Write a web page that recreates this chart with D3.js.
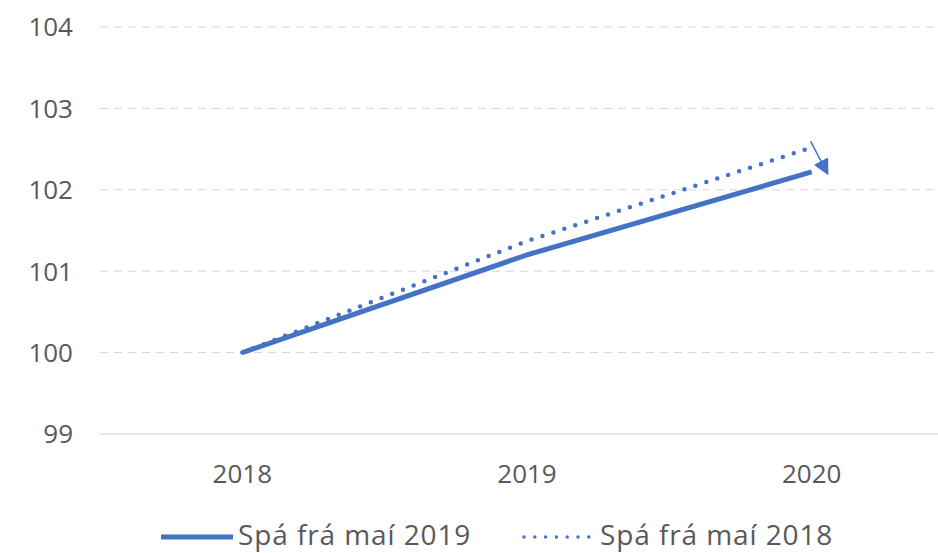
<!DOCTYPE html>
<html>
<head>
<meta charset="utf-8">
<script src="https://cdn.jsdelivr.net/npm/d3@7"></script>
<style>
  body { margin: 0; background: #fff; }
  text { font-family: "Open Sans", sans-serif; fill: #595959; }
</style>
</head>
<body>
<div id="chart"></div>
<script>
// ár á x-ás
const years = ['2018', '2019', '2020'];
// spá frá maí 2019 (heil lína)
const spa2019 = [100, 101.2, 102.22];
// spá frá maí 2018 (punktalína)
const spa2018 = [100, 101.37, 102.52];
const yTicks = [99, 100, 101, 102, 103, 104];
const seriesNames = ['Spá frá maí 2019', 'Spá frá maí 2018'];

const width = 938, height = 553;
const margin = {left: 100, right: -16, top: 27, bottom: 119};
const blue = '#4472C4';

const svg = d3.select('#chart').append('svg')
    .attr('width', width)
    .attr('height', height);

const x = d3.scaleBand()
    .domain(years)
    .range([margin.left, width - margin.right]);
const y = d3.scaleLinear()
    .domain([99, 104])
    .range([height - margin.bottom, margin.top]);

const cx = d => x(d) + x.bandwidth() / 2;

// gridlínur
svg.append('g')
    .selectAll('line')
    .data(yTicks)
    .join('line')
    .attr('x1', margin.left)
    .attr('x2', width)
    .attr('y1', d => y(d))
    .attr('y2', d => y(d))
    .attr('stroke', d => d === 99 ? '#d0d0d0' : '#d6d6d6')
    .attr('stroke-width', 1)
    .attr('stroke-dasharray', d => d === 99 ? null : '8,6');

// y-ás
svg.append('g')
    .selectAll('text')
    .data(yTicks)
    .join('text')
    .attr('x', 73)
    .attr('y', d => y(d))
    .attr('dy', '0.36em')
    .attr('text-anchor', 'end')
    .style('font-size', '26px')
    .text(d => d);

// x-ás
svg.append('g')
    .selectAll('text')
    .data(years)
    .join('text')
    .attr('x', d => cx(d))
    .attr('y', y(99) + 40)
    .attr('dy', '0.36em')
    .attr('text-anchor', 'middle')
    .style('font-size', '26px')
    .text(d => d);

const line = d3.line()
    .x((d, i) => cx(years[i]))
    .y(d => y(d));

svg.append('path')
    .datum(spa2018)
    .attr('d', line)
    .attr('fill', 'none')
    .attr('stroke', blue)
    .attr('stroke-width', 4.5)
    .attr('stroke-linecap', 'round')
    .attr('stroke-dasharray', '0,11.5');

svg.append('path')
    .datum(spa2019)
    .attr('d', line)
    .attr('fill', 'none')
    .attr('stroke', blue)
    .attr('stroke-width', 5);

// ör frá gömlu spánni að nýju
svg.append('defs').append('marker')
    .attr('id', 'arrow')
    .attr('viewBox', '0 0 10 10')
    .attr('refX', 9)
    .attr('refY', 5)
    .attr('markerWidth', 16)
    .attr('markerHeight', 16)
    .attr('markerUnits', 'userSpaceOnUse')
    .attr('orient', 'auto')
    .append('path')
    .attr('d', 'M0,0L10,5L0,10z')
    .attr('fill', blue);

const last = years.length - 1;
svg.append('line')
    .attr('x1', cx(years[last]) - 1)
    .attr('y1', y(spa2018[last]) - 6)
    .attr('x2', cx(years[last]) + 16)
    .attr('y2', y(spa2019[last]) + 2)
    .attr('stroke', blue)
    .attr('stroke-width', 1.5)
    .attr('marker-end', 'url(#arrow)');

// skýringar
const legend = svg.append('g').attr('transform', `translate(0, ${height - 16})`);
legend.append('line')
    .attr('x1', 161).attr('x2', 233)
    .attr('y1', 0).attr('y2', 0)
    .attr('stroke', blue)
    .attr('stroke-width', 5);
legend.append('text')
    .attr('x', 238).attr('y', 8)
    .style('font-size', '28px')
    .style('letter-spacing', '0.9px')
    .text(seriesNames[0]);
legend.append('line')
    .attr('x1', 524).attr('x2', 590)
    .attr('y1', 0).attr('y2', 0)
    .attr('stroke', blue)
    .attr('stroke-width', 3.5)
    .attr('stroke-linecap', 'round')
    .attr('stroke-dasharray', '0,10.8');
legend.append('text')
    .attr('x', 600).attr('y', 8)
    .style('font-size', '28px')
    .style('letter-spacing', '0.9px')
    .text(seriesNames[1]);
</script>
</body>
</html>
